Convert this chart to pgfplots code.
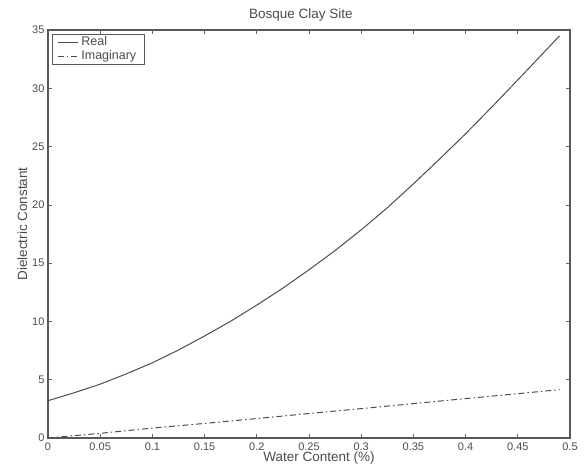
\documentclass[border=0pt]{standalone}
\usepackage{pgfplots}
\pgfplotsset{compat=1.18}
\usepackage{fontspec}
\setmainfont{Liberation Sans}
\begin{document}
\begin{tikzpicture}
\useasboundingbox (-48pt,-34pt) rectangle (536pt,438pt);
\begin{axis}[
  scale only axis,
  width=522pt, height=408pt,
  xmin=0, xmax=0.5, ymin=0, ymax=35,
  xtick={0,0.05,...,0.5},
  xticklabels={0,0.05,0.1,0.15,0.2,0.25,0.3,0.35,0.4,0.45,0.5},
  ytick={0,5,...,35},
  tick align=inside,
  tick pos=both,
  major tick length=4pt,
  tick style={black!60, line width=0.6pt},
  axis line style={black!65, line width=1.6pt},
  every tick label/.append style={font=\fontsize{11}{12}\selectfont, text=black!70},
  xticklabel style={yshift=-1pt},
  /pgf/number format/assume math mode=true,
  xlabel={Water Content (\%)},
  ylabel={Dielectric Constant},
  title={Bosque Clay Site},
  label style={font=\fontsize{13.5}{14}\selectfont, text=black!70},
  title style={font=\fontsize{13.5}{14}\selectfont, text=black!70, yshift=-1pt, xshift=-8pt},
  xlabel style={yshift=5pt, xshift=10pt},
  ylabel style={yshift=-2pt, xshift=10pt},
  legend style={font=\fontsize{12.5}{13}\selectfont, text=black!70, draw=black!65, line width=0.8pt,
    inner xsep=5pt, inner ysep=1pt, row sep=0pt, at={(0.008,0.99)}, anchor=north west,
    nodes={text height=8.5pt, text depth=2.5pt, inner ysep=1.5pt, inner xsep=3pt}},
  legend cell align=left,
  legend image code/.code={\draw[#1, line width=0.8pt] (0pt,0pt) -- (20pt,0pt);},
]
\addplot[black!70, line width=1pt] coordinates {
(0,3.20) (0.025,3.88) (0.05,4.62) (0.075,5.50) (0.1,6.45) (0.125,7.55)
(0.15,8.75) (0.175,10.02) (0.2,11.40) (0.225,12.86) (0.25,14.43)
(0.275,16.08) (0.3,17.86) (0.325,19.75) (0.35,21.80) (0.375,23.92)
(0.4,26.10) (0.425,28.38) (0.45,30.72) (0.475,33.08) (0.49,34.5)
};
\addlegendentry{Real}
\addplot[black!70, line width=1pt, dash pattern=on 6pt off 3pt on 1.5pt off 3pt] coordinates {
(0,0) (0.05,0.40) (0.1,0.85) (0.15,1.25) (0.2,1.67) (0.25,2.10)
(0.3,2.52) (0.35,2.95) (0.4,3.38) (0.45,3.80) (0.49,4.15)
};
\addlegendentry{Imaginary}
\end{axis}
\end{tikzpicture}
\end{document}
